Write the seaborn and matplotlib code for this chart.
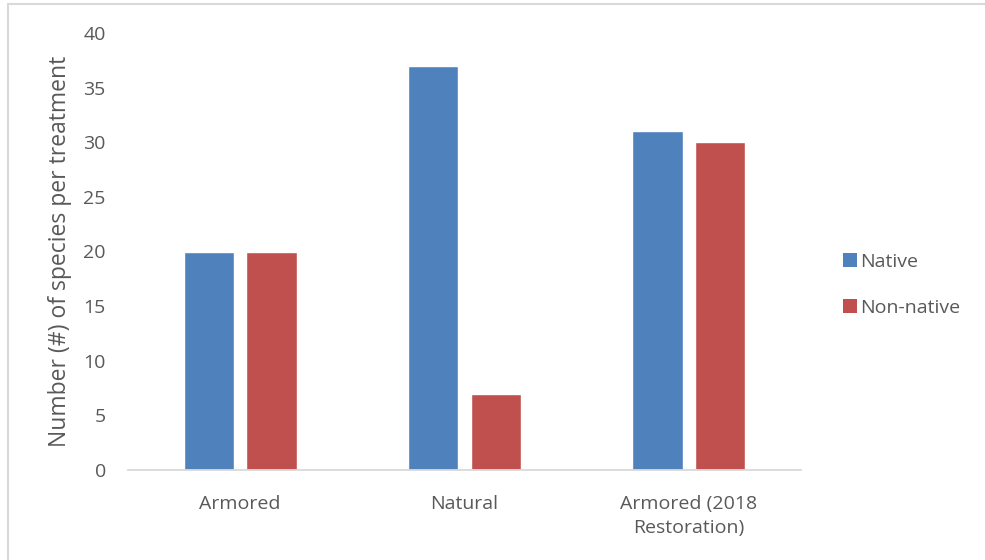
import matplotlib
matplotlib.use("Agg")
import matplotlib.pyplot as plt
from matplotlib.lines import Line2D
from matplotlib.patches import Patch
import seaborn as sns
import pandas as pd

treatments = ["Armored", "Natural", "Armored (2018\nRestoration)"]
native = [20, 37, 31]
non_native = [20, 7, 30]
series_names = ["Native", "Non-native"]
yticks = [0, 5, 10, 15, 20, 25, 30, 35, 40]

colors = ["#4F81BD", "#C0504D"]
text_color = "#595959"

df = pd.DataFrame({
    "treatment": treatments * 2,
    "species": native + non_native,
    "type": [series_names[0]] * 3 + [series_names[1]] * 3,
})

sns.set_theme(style="white")
plt.rcParams["font.family"] = ["Open Sans", "DejaVu Sans"]

fig = plt.figure(figsize=(9.85, 5.6), dpi=100)
ax = fig.add_axes([128 / 985, 1 - 470 / 560, (801 - 128) / 985, (470 - 33) / 560])

sns.barplot(data=df, x="treatment", y="species", hue="type",
            palette=colors, width=0.56, gap=0.2, saturation=1,
            order=treatments, hue_order=series_names, ax=ax, legend=False)

ax.set_ylim(0, 40)
ax.set_xlim(-0.5, 2.5)
ax.set_yticks(yticks)
ax.set_yticklabels([str(v) for v in yticks])
ax.set_xlabel("")
ax.set_ylabel("Number (#) of species per treatment", fontsize=16.5,
              color=text_color, labelpad=8)
ax.tick_params(axis="both", length=0, labelsize=14, colors=text_color)
ax.tick_params(axis="y", pad=16)
ax.tick_params(axis="x", pad=18)
for lbl in ax.get_xticklabels():
    lbl.set_linespacing(1.4)

for side in ["top", "right", "left"]:
    ax.spines[side].set_visible(False)
ax.spines["bottom"].set_color("#D9D9D9")
ax.spines["bottom"].set_linewidth(1.3)

handles = [Patch(facecolor=c, edgecolor="none") for c in colors]
fig.legend(handles, series_names, loc="center left",
           bbox_to_anchor=(825 / 985, 1 - 285 / 560), frameon=False,
           fontsize=14, labelcolor=text_color, handlelength=0.75,
           handleheight=0.75, handletextpad=0.15, labelspacing=1.45)

# chart area border (left and top edges)
fig.add_artist(Line2D([8 / 985, 8 / 985], [0, 1 - 4 / 560],
                      transform=fig.transFigure, color="#D9D9D9", lw=1.5))
fig.add_artist(Line2D([8 / 985, 1], [1 - 4 / 560, 1 - 4 / 560],
                      transform=fig.transFigure, color="#D9D9D9", lw=1.5))

fig.savefig("out.png", dpi=100, facecolor="white")
